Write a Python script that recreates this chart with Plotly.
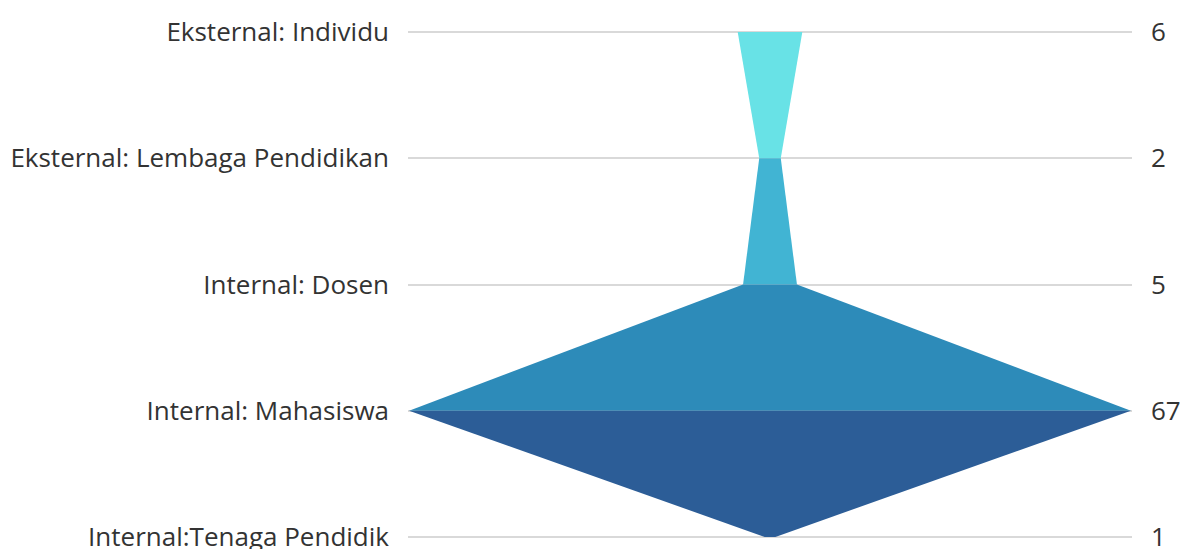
import plotly.graph_objects as go

categories = ["Eksternal: Individu", "Eksternal: Lembaga Pendidikan", "Internal: Dosen",
              "Internal: Mahasiswa", "Internal:Tenaga Pendidik"]
values = [6, 2, 5, 67, 1]
segment_colors = ["#68e2e6", "#41b4d3", "#2d8bb9", "#2c5d97"]

fig = go.Figure()
pos = list(range(len(categories)))
for i in range(len(values) - 1):
    a, b = values[i], values[i + 1]
    fig.add_trace(go.Scatter(
        x=[-a / 2, a / 2, b / 2, -b / 2, -a / 2],
        y=[pos[i], pos[i], pos[i + 1], pos[i + 1], pos[i]],
        fill="toself", fillcolor=segment_colors[i], mode="lines",
        line=dict(width=0, color=segment_colors[i]), hoverinfo="skip", showlegend=False,
    ))
fig.add_trace(go.Scatter(x=[0], y=[0], yaxis="y2", mode="markers",
                         marker=dict(opacity=0), showlegend=False, hoverinfo="skip"))

yr = [4.08, -0.08]
font = dict(family="Open Sans", size=26, color="#333333")
fig.update_layout(
    width=1191, height=549,
    margin=dict(l=408, r=59, t=22, b=2),
    paper_bgcolor="white", plot_bgcolor="white",
    xaxis=dict(range=[-33.6, 33.6], visible=False, showgrid=False, zeroline=False,
               automargin=False),
    yaxis=dict(range=yr, tickvals=pos, ticktext=categories, showgrid=True,
               gridcolor="#d9d9d9", gridwidth=1.5, zeroline=False, showline=False,
               ticks="", ticklabelstandoff=18, tickfont=font, ticklabeloverflow="allow",
               automargin=False),
    yaxis2=dict(range=yr, tickvals=pos, ticktext=[str(v) for v in values], overlaying="y",
                side="right", showgrid=False, zeroline=False, showline=False,
                ticks="", ticklabelstandoff=18, tickfont=font, ticklabeloverflow="allow",
                automargin=False),
)
fig.write_html("out.html")
